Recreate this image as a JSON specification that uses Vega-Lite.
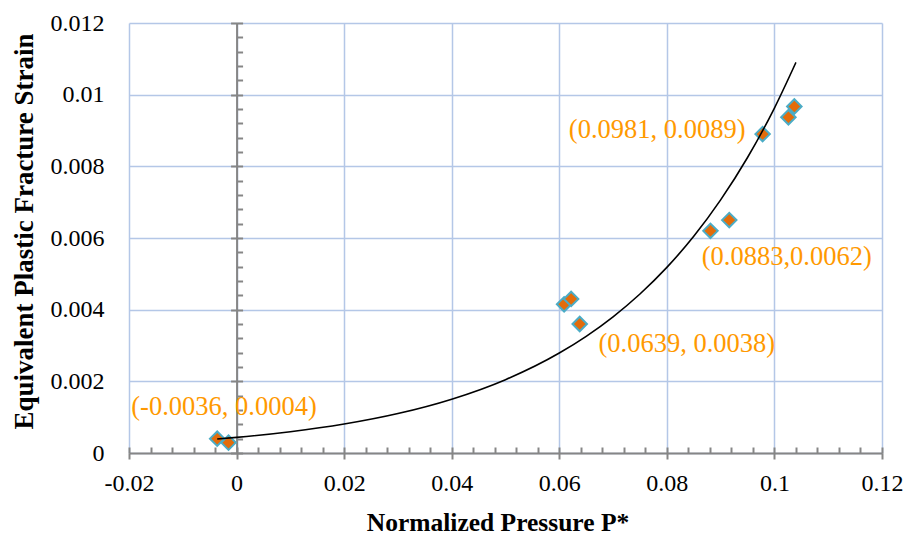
{
  "$schema": "https://vega.github.io/schema/vega-lite/v6.json",
  "width": 753,
  "height": 430,
  "autosize": {"type": "none"},
  "padding": {"left": 129, "top": 23, "right": 26, "bottom": 84},
  "background": "white",
  "config": {"view": {"stroke": null}, "font": "Liberation Serif"},
  "datasets": {
    "points": [
      {"p": -0.0036, "e": 0.0004},
      {"p": -0.0015, "e": 0.00029},
      {"p": 0.0609, "e": 0.00415},
      {"p": 0.0622, "e": 0.0043},
      {"p": 0.0638, "e": 0.0036},
      {"p": 0.0881, "e": 0.0062},
      {"p": 0.0916, "e": 0.0065},
      {"p": 0.0978, "e": 0.0089},
      {"p": 0.1026, "e": 0.00937},
      {"p": 0.1037, "e": 0.00967}
    ],
    "curve": [
      {"p": -0.0036, "e": 0.000389},
      {"p": 0.0, "e": 0.000435},
      {"p": 0.01, "e": 0.000593},
      {"p": 0.02, "e": 0.000808},
      {"p": 0.03, "e": 0.001101},
      {"p": 0.04, "e": 0.001502},
      {"p": 0.05, "e": 0.002047},
      {"p": 0.06, "e": 0.00279},
      {"p": 0.065, "e": 0.003257},
      {"p": 0.07, "e": 0.003802},
      {"p": 0.075, "e": 0.004438},
      {"p": 0.08, "e": 0.00518},
      {"p": 0.085, "e": 0.006048},
      {"p": 0.09, "e": 0.007064},
      {"p": 0.095, "e": 0.008246},
      {"p": 0.1, "e": 0.009627},
      {"p": 0.104, "e": 0.0109}
    ],
    "labels": [
      {"p": -0.00234, "e": 0.00128, "t": "(-0.0036, 0.0004)"},
      {"p": 0.0782, "e": 0.00901, "t": "(0.0981, 0.0089)"},
      {"p": 0.1023, "e": 0.00547, "t": "(0.0883,0.0062)"},
      {"p": 0.0837, "e": 0.00304, "t": "(0.0639, 0.0038)"}
    ]
  },
  "layer": [
    {
      "data": {"name": "points"},
      "mark": {"type": "point", "shape": "diamond", "filled": true, "fill": "#E36C0A", "stroke": "#4BACC6", "strokeWidth": 2, "size": 210, "opacity": 1},
      "encoding": {
        "x": {
          "field": "p", "type": "quantitative",
          "scale": {"domain": [-0.02, 0.12], "nice": false, "zero": false},
          "axis": {
            "orient": "bottom",
            "values": [-0.02, 0, 0.02, 0.04, 0.06, 0.08, 0.1, 0.12],
            "grid": true, "gridColor": "#B4C7E7", "gridWidth": 1.5,
            "domain": true, "domainColor": "#868686", "domainWidth": 2,
            "ticks": true, "tickColor": "#868686", "tickSize": 6, "tickWidth": 2,
            "labelExpr": "datum.value < 0 ? '-' + format(-datum.value, '~g') : format(datum.value, '~g')",
            "labelFont": "Liberation Serif", "labelFontSize": 24, "labelColor": "#000000", "labelPadding": 12,
            "labelFlush": false, "labelOverlap": false,
            "title": "Normalized Pressure P*",
            "titleFont": "Liberation Serif", "titleFontSize": 25.5, "titleFontWeight": "bold", "titleColor": "#000000", "titlePadding": 15,
            "titleX": 368.5
          }
        },
        "y": {
          "field": "e", "type": "quantitative",
          "scale": {"domain": [0, 0.012], "nice": false, "zero": false},
          "axis": {
            "orient": "left",
            "values": [0, 0.002, 0.004, 0.006, 0.008, 0.01, 0.012],
            "grid": true, "gridColor": "#B4C7E7", "gridWidth": 1.5,
            "domain": false, "ticks": false,
            "format": "~g",
            "labelFont": "Liberation Serif", "labelFontSize": 24, "labelColor": "#000000", "labelPadding": 25,
            "labelFlush": false, "labelOverlap": false,
            "title": "Equivalent Plastic Fracture Strain",
            "titleFont": "Liberation Serif", "titleFontSize": 27, "titleFontWeight": "bold", "titleColor": "#000000", "titlePadding": 12,
            "titleY": 208
          }
        }
      }
    },
    {
      "data": {"name": "curve"},
      "mark": {"type": "line", "color": "#000000", "strokeWidth": 1.6, "interpolate": "monotone"},
      "encoding": {
        "x": {
          "field": "p", "type": "quantitative",
          "axis": {
            "orient": "top", "offset": -430,
            "values": [-0.02, -0.016, -0.012, -0.008, -0.004, 0, 0.004, 0.008, 0.012, 0.016, 0.02, 0.024, 0.028, 0.032, 0.036, 0.04, 0.044, 0.048, 0.052, 0.056, 0.06, 0.064, 0.068, 0.072, 0.076, 0.08, 0.084, 0.088, 0.092, 0.096, 0.1, 0.104, 0.108, 0.112, 0.116, 0.12],
            "grid": false, "domain": false, "labels": false, "title": null,
            "ticks": true, "tickColor": "#868686", "tickSize": 6, "tickWidth": 2
          }
        },
        "y": {
          "field": "e", "type": "quantitative",
          "axis": {
            "orient": "right", "offset": -645.43,
            "values": [0, 0.0004, 0.0008, 0.0012, 0.0016, 0.002, 0.0024, 0.0028, 0.0032, 0.0036, 0.004, 0.0044, 0.0048, 0.0052, 0.0056, 0.006, 0.0064, 0.0068, 0.0072, 0.0076, 0.008, 0.0084, 0.0088, 0.0092, 0.0096, 0.01, 0.0104, 0.0108, 0.0112, 0.0116, 0.012],
            "grid": false, "labels": false, "title": null,
            "domain": true, "domainColor": "#868686", "domainWidth": 2,
            "ticks": true, "tickColor": "#868686", "tickSize": 6, "tickWidth": 2
          }
        }
      }
    },
    {
      "data": {"name": "labels"},
      "mark": {"type": "text", "font": "Liberation Serif", "fontSize": 26.5, "color": "#FF9900", "align": "center", "baseline": "middle"},
      "encoding": {
        "x": {"field": "p", "type": "quantitative", "axis": null},
        "y": {
          "field": "e", "type": "quantitative",
          "axis": {
            "orient": "left", "offset": -107.57,
            "values": [0, 0.002, 0.004, 0.006, 0.008, 0.01, 0.012],
            "grid": false, "labels": false, "title": null, "domain": false,
            "ticks": true, "tickColor": "#868686", "tickSize": 6, "tickWidth": 2
          }
        },
        "text": {"field": "t"}
      }
    }
  ],
  "resolve": {"axis": {"x": "independent", "y": "independent"}}
}
